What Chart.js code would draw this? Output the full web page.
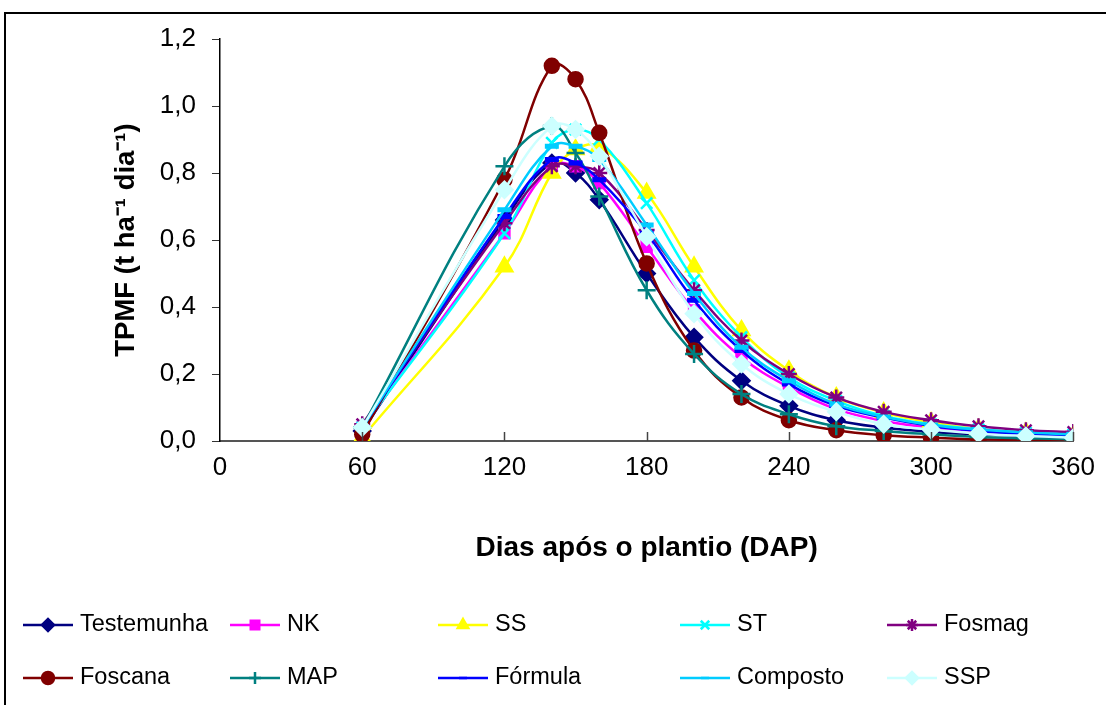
<!DOCTYPE html>
<html lang="pt">
<head>
    <meta charset="UTF-8">
    <title>TPMF</title>
    <script src="https://cdn.jsdelivr.net/npm/chart.js"></script>
    <style>
        body { margin: 0; background: #fff; }
        #tpmf { display: block; }
    </style>
</head>
<body>
    <canvas id="tpmf" width="1106" height="705"></canvas>

    <script>
        // dias após o plantio
        const dap = [60, 120, 140, 150, 160, 180, 200, 220, 240, 260, 280, 300, 320, 340, 360];

        const testemunha = [0.03, 0.66, 0.83, 0.80, 0.72, 0.50, 0.31, 0.18, 0.105, 0.062, 0.04, 0.027, 0.02, 0.015, 0.01];
        const nk         = [0.04, 0.62, 0.82, 0.82, 0.77, 0.58, 0.39, 0.25, 0.16, 0.095, 0.06, 0.04, 0.03, 0.02, 0.015];
        const ss         = [0.01, 0.52, 0.80, 0.87, 0.88, 0.74, 0.52, 0.33, 0.21, 0.13, 0.085, 0.055, 0.035, 0.025, 0.015];
        const st         = [0.04, 0.62, 0.89, 0.93, 0.90, 0.71, 0.48, 0.31, 0.19, 0.12, 0.075, 0.05, 0.035, 0.025, 0.02];
        const fosmag     = [0.05, 0.65, 0.82, 0.82, 0.80, 0.63, 0.45, 0.30, 0.20, 0.13, 0.087, 0.062, 0.044, 0.032, 0.027];
        const foscana    = [0.02, 0.78, 1.12, 1.08, 0.92, 0.53, 0.27, 0.13, 0.062, 0.032, 0.017, 0.01, 0.005, 0.003, 0.002];
        const map        = [0.04, 0.82, 0.94, 0.86, 0.73, 0.45, 0.26, 0.14, 0.08, 0.044, 0.03, 0.02, 0.012, 0.008, 0.005];
        const formula    = [0.04, 0.67, 0.84, 0.83, 0.78, 0.62, 0.42, 0.27, 0.17, 0.105, 0.07, 0.045, 0.03, 0.02, 0.015];
        const composto   = [0.04, 0.69, 0.88, 0.88, 0.84, 0.645, 0.44, 0.28, 0.18, 0.11, 0.072, 0.048, 0.034, 0.025, 0.02];
        const ssp        = [0.04, 0.75, 0.94, 0.93, 0.85, 0.61, 0.38, 0.23, 0.14, 0.087, 0.05, 0.034, 0.022, 0.015, 0.01];

        const series = [
            { label: 'Testemunha', values: testemunha, color: '#000080', style: 'rectRot', r: 8 },
            { label: 'NK', values: nk, color: '#FF00FF', style: 'rect', r: 7 },
            { label: 'SS', values: ss, color: '#FFFF00', style: 'triangle', r: 9 },
            { label: 'ST', values: st, color: '#00FFFF', style: 'crossRot', r: 8 },
            { label: 'Fosmag', values: fosmag, color: '#800080', style: 'star', r: 8 },
            { label: 'Foscana', values: foscana, color: '#800000', style: 'circle', r: 7 },
            { label: 'MAP', values: map, color: '#008080', style: 'cross', r: 9 },
            { label: 'Fórmula', values: formula, color: '#0000FF', style: 'line', r: 7 },
            { label: 'Composto', values: composto, color: '#00CCFF', style: 'line', r: 7 },
            { label: 'SSP', values: ssp, color: '#CCFFFF', style: 'rectRot', r: 8 }
        ];

        const legendCols = [23, 230, 438, 680, 887];
        const legendRows = [625, 678];
        const fontFam = '"Liberation Sans", Arial, sans-serif';

        const datasets = series.map((s, i) => ({
            label: s.label,
            data: dap.map((d, j) => ({ x: d, y: s.values[j] })),
            borderColor: s.color,
            backgroundColor: s.color,
            borderWidth: 2.5,
            tension: 0.4,
            pointStyle: s.style,
            pointRadius: s.r,
            pointBorderWidth: s.style === 'line' ? 5 : 2.5,
            pointBorderColor: s.color,
            pointBackgroundColor: s.color,
            order: 10 - i
        }));

        const frame = {
            id: 'frame',
            afterDraw(chart) {
                const ctx = chart.ctx;
                const x = chart.scales.x;
                ctx.save();
                // marcas do eixo x para dentro
                ctx.strokeStyle = '#444';
                ctx.lineWidth = 1.5;
                [60, 120, 180, 240, 300, 360].forEach(v => {
                    const px = Math.round(x.getPixelForValue(v)) + 0.5;
                    ctx.beginPath();
                    ctx.moveTo(px, x.top);
                    ctx.lineTo(px, x.top - 9);
                    ctx.stroke();
                });
                // borda externa
                ctx.strokeStyle = '#000';
                ctx.lineWidth = 2;
                ctx.strokeRect(5, 13, 1120, 720);
                // legenda
                ctx.font = '23.5px ' + fontFam;
                ctx.textBaseline = 'middle';
                ctx.fillStyle = '#000';
                chart.data.datasets.forEach((ds, i) => {
                    const lx = legendCols[i % 5];
                    const ly = legendRows[Math.floor(i / 5)];
                    ctx.strokeStyle = ds.borderColor;
                    ctx.lineWidth = 2.5;
                    ctx.beginPath();
                    ctx.moveTo(lx, ly);
                    ctx.lineTo(lx + 50, ly);
                    ctx.stroke();
                    Chart.helpers.drawPoint(ctx, {
                        pointStyle: ds.pointStyle,
                        radius: ds.pointStyle === 'line' ? 4 : 6,
                        borderWidth: ds.pointStyle === 'line' ? 4 : 2
                    }, lx + 25, ly);
                    if (ds.pointStyle !== 'line' && ds.pointStyle !== 'cross' && ds.pointStyle !== 'crossRot' && ds.pointStyle !== 'star') {
                        ctx.fillStyle = ds.borderColor;
                        ctx.fill();
                    }
                    ctx.fillStyle = '#000';
                    ctx.fillText(ds.label, lx + 57, ly);
                });
                ctx.restore();
            }
        };

        new Chart(document.getElementById('tpmf'), {
            type: 'line',
            data: { datasets: datasets },
            options: {
                responsive: false,
                animation: false,
                layout: { padding: { left: 0, top: 39, right: 31, bottom: 134 } },
                plugins: { legend: { display: false }, tooltip: { enabled: false } },
                scales: {
                    x: {
                        type: 'linear',
                        min: 0,
                        max: 360,
                        afterFit: s => { s.height = 130; },
                        ticks: {
                            stepSize: 60,
                            color: '#000',
                            padding: 11,
                            font: { size: 26, family: fontFam }
                        },
                        grid: { display: false, drawTicks: false },
                        border: { display: true, color: '#555', width: 2 },
                        title: {
                            display: true,
                            text: 'Dias após o plantio (DAP)',
                            color: '#000',
                            padding: { top: 0, bottom: 6 },
                            font: { size: 28, weight: 'bold', family: fontFam }
                        }
                    },
                    y: {
                        min: 0,
                        max: 1.2,
                        afterFit: s => { s.width = 220; },
                        ticks: {
                            stepSize: 0.2,
                            color: '#000',
                            padding: 16,
                            callback: v => v.toFixed(1).replace('.', ','),
                            font: { size: 26, family: fontFam }
                        },
                        grid: { drawOnChartArea: false, drawTicks: true, tickLength: 8, color: '#333' },
                        border: { display: true, color: '#000', width: 1.5 },
                        title: {
                            display: true,
                            text: 'TPMF (t ha⁻¹ dia⁻¹)',
                            color: '#000',
                            padding: { top: 110, bottom: 0 },
                            font: { size: 27.5, weight: 'bold', family: fontFam }
                        }
                    }
                }
            },
            plugins: [frame]
        });
    </script>
</body>
</html>
